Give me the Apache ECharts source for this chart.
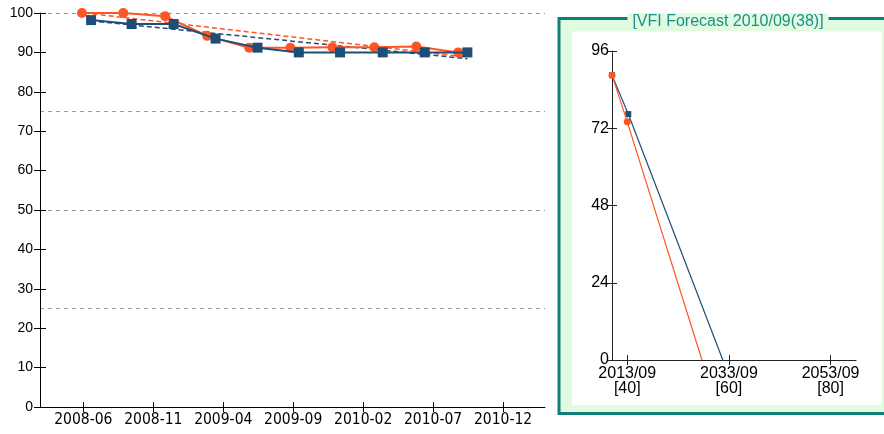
<!DOCTYPE html>
<html>
<head>
<meta charset="utf-8">
<script src="https://cdn.jsdelivr.net/npm/echarts@6/dist/echarts.min.js"></script>
<style>
  html, body { margin: 0; padding: 0; background: #ffffff; }
  #chart { width: 884px; height: 434px; }
</style>
</head>
<body>
<div id="chart"></div>
<script>
// ---- Data (x of the main chart = months counted from 2008-01 = 0) ----
const mainTickValues = [5, 10, 15, 20, 25, 30, 35];
const mainTickLabels = ['2008-06', '2008-11', '2009-04', '2009-09', '2010-02', '2010-07', '2010-12'];

const orangeMonths = [4.9, 7.85, 10.85, 13.85, 16.85, 19.8, 22.8, 25.8, 28.8, 31.8];
const orangeValues = [100, 100, 99.2, 94.2, 91.2, 91.2, 91.3, 91.3, 91.5, 90.0];

const blueMonths = [5.55, 8.45, 11.45, 14.45, 17.45, 20.4, 23.35, 26.4, 29.4, 32.45];
const blueValues = [98.2, 97.2, 97.2, 93.5, 91.2, 90.0, 90.0, 90.0, 90.0, 90.0];

const orangeTrendMonths = [5.1, 32.2];
const orangeTrendValues = [100.0, 88.9];
const blueTrendMonths = [5.55, 32.45];
const blueTrendValues = [98.0, 88.4];

// ---- Forecast panel (x = index, 40 = 2013/09) ----
const forecastTitle = '[VFI Forecast 2010/09(38)]';
const fcTickValues = [40, 60, 80];
const fcTickLabels = ['2013/09\n[40]', '2033/09\n[60]', '2053/09\n[80]'];
const fcOrangeX = [37, 40, 54.7];
const fcOrangeY = [88.5, 74.0, 0];
const fcBlueX = [37, 40.2, 58.8];
const fcBlueY = [88.5, 76.4, 0];

// ---- Styling ----
const ORANGE = '#ff5526';
const BLUE = '#1e4e75';
const TEAL = '#0f8079';
const PALE = '#e0fbe0';
const FONT_MAIN = 'Liberation Sans';
const FONT_NARROW = '"Liberation Sans Narrow", "Arial Narrow", "DejaVu Sans Condensed", sans-serif';

function pairs(xs, ys) { return xs.map((x, i) => [x, ys[i]]); }
function pairsEndNoSymbol(xs, ys) {
  return xs.map((x, i) => i === xs.length - 1 ? { value: [x, ys[i]], symbol: 'none' } : [x, ys[i]]);
}

const chart = echarts.init(document.getElementById('chart'), null, { renderer: 'canvas' });

const axisBlack = { lineStyle: { color: '#000', width: 1 } };

const option = {
  animation: false,
  backgroundColor: '#ffffff',
  graphic: [
    { type: 'rect', z: -10, shape: { x: 559, y: 18.5, width: 340, height: 395 },
      style: { fill: PALE, stroke: TEAL, lineWidth: 3 } },
    { type: 'rect', z: -9, shape: { x: 572, y: 31.5, width: 310, height: 373.5 },
      style: { fill: '#ffffff' } },
    { type: 'text', z: -8, x: 728, y: 22,
      style: { text: forecastTitle, fill: '#1a9088', font: '16px "Liberation Sans", Arial, sans-serif',
        align: 'center', verticalAlign: 'middle', backgroundColor: PALE, padding: [1, 5, 1, 5] } }
  ],
  grid: [
    { left: 40, right: 339, top: 13, bottom: 27 },
    { left: 612, right: 28, top: 51, bottom: 74 }
  ],
  xAxis: [
    { gridIndex: 0, type: 'value', min: 1.9, max: 38,
      axisLine: axisBlack, splitLine: { show: false },
      axisTick: { customValues: mainTickValues, length: 5, lineStyle: { color: '#000' } },
      axisLabel: { customValues: mainTickValues, color: '#000', fontFamily: FONT_NARROW, fontSize: 15.5, margin: 5,
        formatter: v => mainTickLabels[mainTickValues.indexOf(v)] || '' } },
    { gridIndex: 0, type: 'value', min: 1.9, max: 38, position: 'bottom',
      axisLine: { show: false }, splitLine: { show: false },
      axisTick: { customValues: mainTickValues, inside: true, length: 5, lineStyle: { color: '#000' } },
      axisLabel: { show: false } },
    { gridIndex: 1, type: 'value', min: 37, max: 85,
      axisLine: { lineStyle: { color: '#222', width: 1 } }, splitLine: { show: false },
      axisTick: { customValues: fcTickValues, length: 5, lineStyle: { color: '#222' } },
      axisLabel: { customValues: fcTickValues, color: '#000', fontFamily: FONT_MAIN, fontSize: 16, margin: 6, lineHeight: 15,
        formatter: v => fcTickLabels[fcTickValues.indexOf(v)] || '' } },
    { gridIndex: 1, type: 'value', min: 37, max: 85, position: 'bottom',
      axisLine: { show: false }, splitLine: { show: false },
      axisTick: { customValues: fcTickValues, inside: true, length: 5, lineStyle: { color: '#222' } },
      axisLabel: { show: false } }
  ],
  yAxis: [
    { gridIndex: 0, type: 'value', min: 0, max: 100, interval: 10,
      axisLine: { show: true, lineStyle: { color: '#000', width: 1 } }, splitLine: { show: false },
      axisTick: { show: true, length: 6, lineStyle: { color: '#000' } },
      axisLabel: { color: '#000', fontFamily: FONT_MAIN, fontSize: 14, margin: 7 } },
    { gridIndex: 0, type: 'value', min: 0, max: 100, interval: 10, position: 'left',
      axisLine: { show: false }, splitLine: { show: false },
      axisTick: { show: true, inside: true, length: 6, lineStyle: { color: '#000' } },
      axisLabel: { show: false } },
    { gridIndex: 0, type: 'value', min: 0, max: 100, interval: 25, position: 'left',
      axisLine: { show: false }, axisTick: { show: false }, axisLabel: { show: false },
      splitLine: { show: true, lineStyle: { color: '#9a9a9a', type: [4, 4], width: 1 } } },
    { gridIndex: 1, type: 'value', min: 0, max: 96, interval: 24,
      axisLine: { show: true, lineStyle: { color: '#222', width: 1 } }, splitLine: { show: false },
      axisTick: { show: true, length: 5, lineStyle: { color: '#222' } },
      axisLabel: { color: '#000', fontFamily: FONT_MAIN, fontSize: 16, margin: 3 } },
    { gridIndex: 1, type: 'value', min: 0, max: 96, interval: 24, position: 'left',
      axisLine: { show: false }, splitLine: { show: false },
      axisTick: { show: true, inside: true, length: 5, lineStyle: { color: '#222' } },
      axisLabel: { show: false } }
  ],
  series: [
    { type: 'line', xAxisIndex: 0, yAxisIndex: 0, data: pairs(orangeTrendMonths, orangeTrendValues),
      symbol: 'none', lineStyle: { color: ORANGE, width: 1.5, type: [5, 3] }, z: 3 },
    { type: 'line', xAxisIndex: 0, yAxisIndex: 0, data: pairs(blueTrendMonths, blueTrendValues),
      symbol: 'none', lineStyle: { color: BLUE, width: 1.5, type: [5, 3] }, z: 3 },
    { type: 'line', xAxisIndex: 0, yAxisIndex: 0, data: pairs(orangeMonths, orangeValues),
      symbol: 'circle', symbolSize: 10, itemStyle: { color: ORANGE },
      lineStyle: { color: ORANGE, width: 2 }, z: 4 },
    { type: 'line', xAxisIndex: 0, yAxisIndex: 0, data: pairs(blueMonths, blueValues),
      symbol: 'rect', symbolSize: 10, itemStyle: { color: BLUE },
      lineStyle: { color: BLUE, width: 2 }, z: 5 },
    { type: 'line', xAxisIndex: 2, yAxisIndex: 3, data: pairsEndNoSymbol(fcBlueX, fcBlueY),
      symbol: 'rect', symbolSize: 6, itemStyle: { color: BLUE },
      lineStyle: { color: BLUE, width: 1.2 }, z: 4 },
    { type: 'line', xAxisIndex: 2, yAxisIndex: 3, data: pairsEndNoSymbol(fcOrangeX, fcOrangeY),
      symbol: 'circle', symbolSize: 7, itemStyle: { color: ORANGE },
      lineStyle: { color: ORANGE, width: 1.2 }, z: 5 }
  ]
};

chart.setOption(option);
</script>
</body>
</html>
